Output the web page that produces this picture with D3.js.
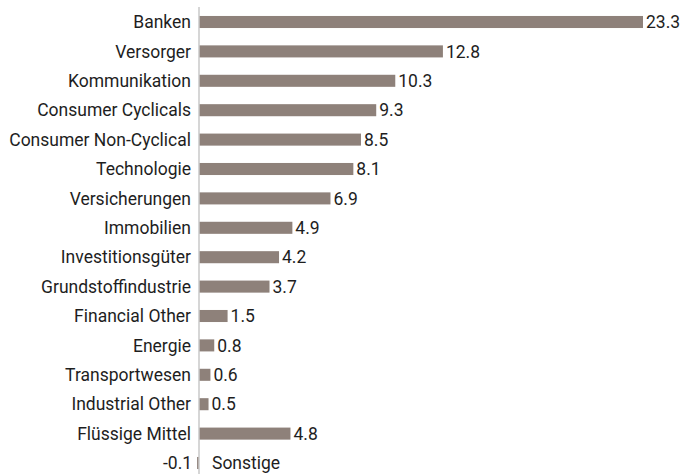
<!DOCTYPE html>
<html>
<head>
<meta charset="utf-8">
<script src="https://cdn.jsdelivr.net/npm/d3@7"></script>
<style>
  body { margin: 0; background: #fff; }
  text { font-family: "Roboto", sans-serif; font-size: 17.5px; fill: #1e1e1e; }
</style>
</head>
<body>
<div id="chart"></div>
<script>
'use strict';

// ---------- Data ---------- //
var categories = ['Banken', 'Versorger', 'Kommunikation', 'Consumer Cyclicals',
  'Consumer Non-Cyclical', 'Technologie', 'Versicherungen', 'Immobilien',
  'Investitionsgüter', 'Grundstoffindustrie', 'Financial Other', 'Energie',
  'Transportwesen', 'Industrial Other', 'Flüssige Mittel', 'Sonstige'];
var values = [23.3, 12.8, 10.3, 9.3, 8.5, 8.1, 6.9, 4.9, 4.2, 3.7, 1.5, 0.8, 0.6, 0.5, 4.8, -0.1];

var data = categories.map(function (c, i) { return { name: c, value: values[i] }; });

// ---------- Build the chart ---------- //
var width = 682;
var height = 474;
var x0 = 199;

var svg = d3.select('#chart').append('svg')
  .attr('width', width)
  .attr('height', height);

var x = d3.scaleLinear()
  .domain([0, 23.3])
  .range([x0, 643]);

var y = d3.scaleBand()
  .domain(categories)
  .range([7.3, 7.3 + 16 * 29.4])
  .paddingInner(0.59)
  .paddingOuter(0.295);

// bars
svg.selectAll('rect.bar').data(data)
  .enter().append('rect')
  .attr('class', 'bar')
  .attr('x', function (d) { return x(Math.min(0, d.value)); })
  .attr('y', function (d) { return y(d.name); })
  .attr('width', function (d) { return Math.abs(x(d.value) - x(0)); })
  .attr('height', y.bandwidth())
  .attr('fill', '#8e817a');

// axis line
svg.append('line')
  .attr('x1', x(0)).attr('x2', x(0))
  .attr('y1', 7).attr('y2', height)
  .attr('stroke', '#c8c8c8')
  .attr('stroke-width', 1.5);

// category labels
svg.selectAll('text.cat').data(data)
  .enter().append('text')
  .attr('class', 'cat')
  .attr('x', function (d) { return d.value < 0 ? x(0) + 13 : x(0) - 8; })
  .attr('y', function (d) { return y(d.name) + y.bandwidth() / 2; })
  .attr('dy', '0.35em')
  .attr('text-anchor', function (d) { return d.value < 0 ? 'start' : 'end'; })
  .text(function (d) { return d.name; });

// value labels
svg.selectAll('text.val').data(data)
  .enter().append('text')
  .attr('class', 'val')
  .attr('x', function (d) { return d.value < 0 ? x(d.value) - 5 : x(d.value) + 3; })
  .attr('y', function (d) { return y(d.name) + y.bandwidth() / 2; })
  .attr('dy', '0.35em')
  .attr('text-anchor', function (d) { return d.value < 0 ? 'end' : 'start'; })
  .text(function (d) { return d3.format('.1f')(d.value).replace('−', '-'); });
</script>
</body>
</html>
